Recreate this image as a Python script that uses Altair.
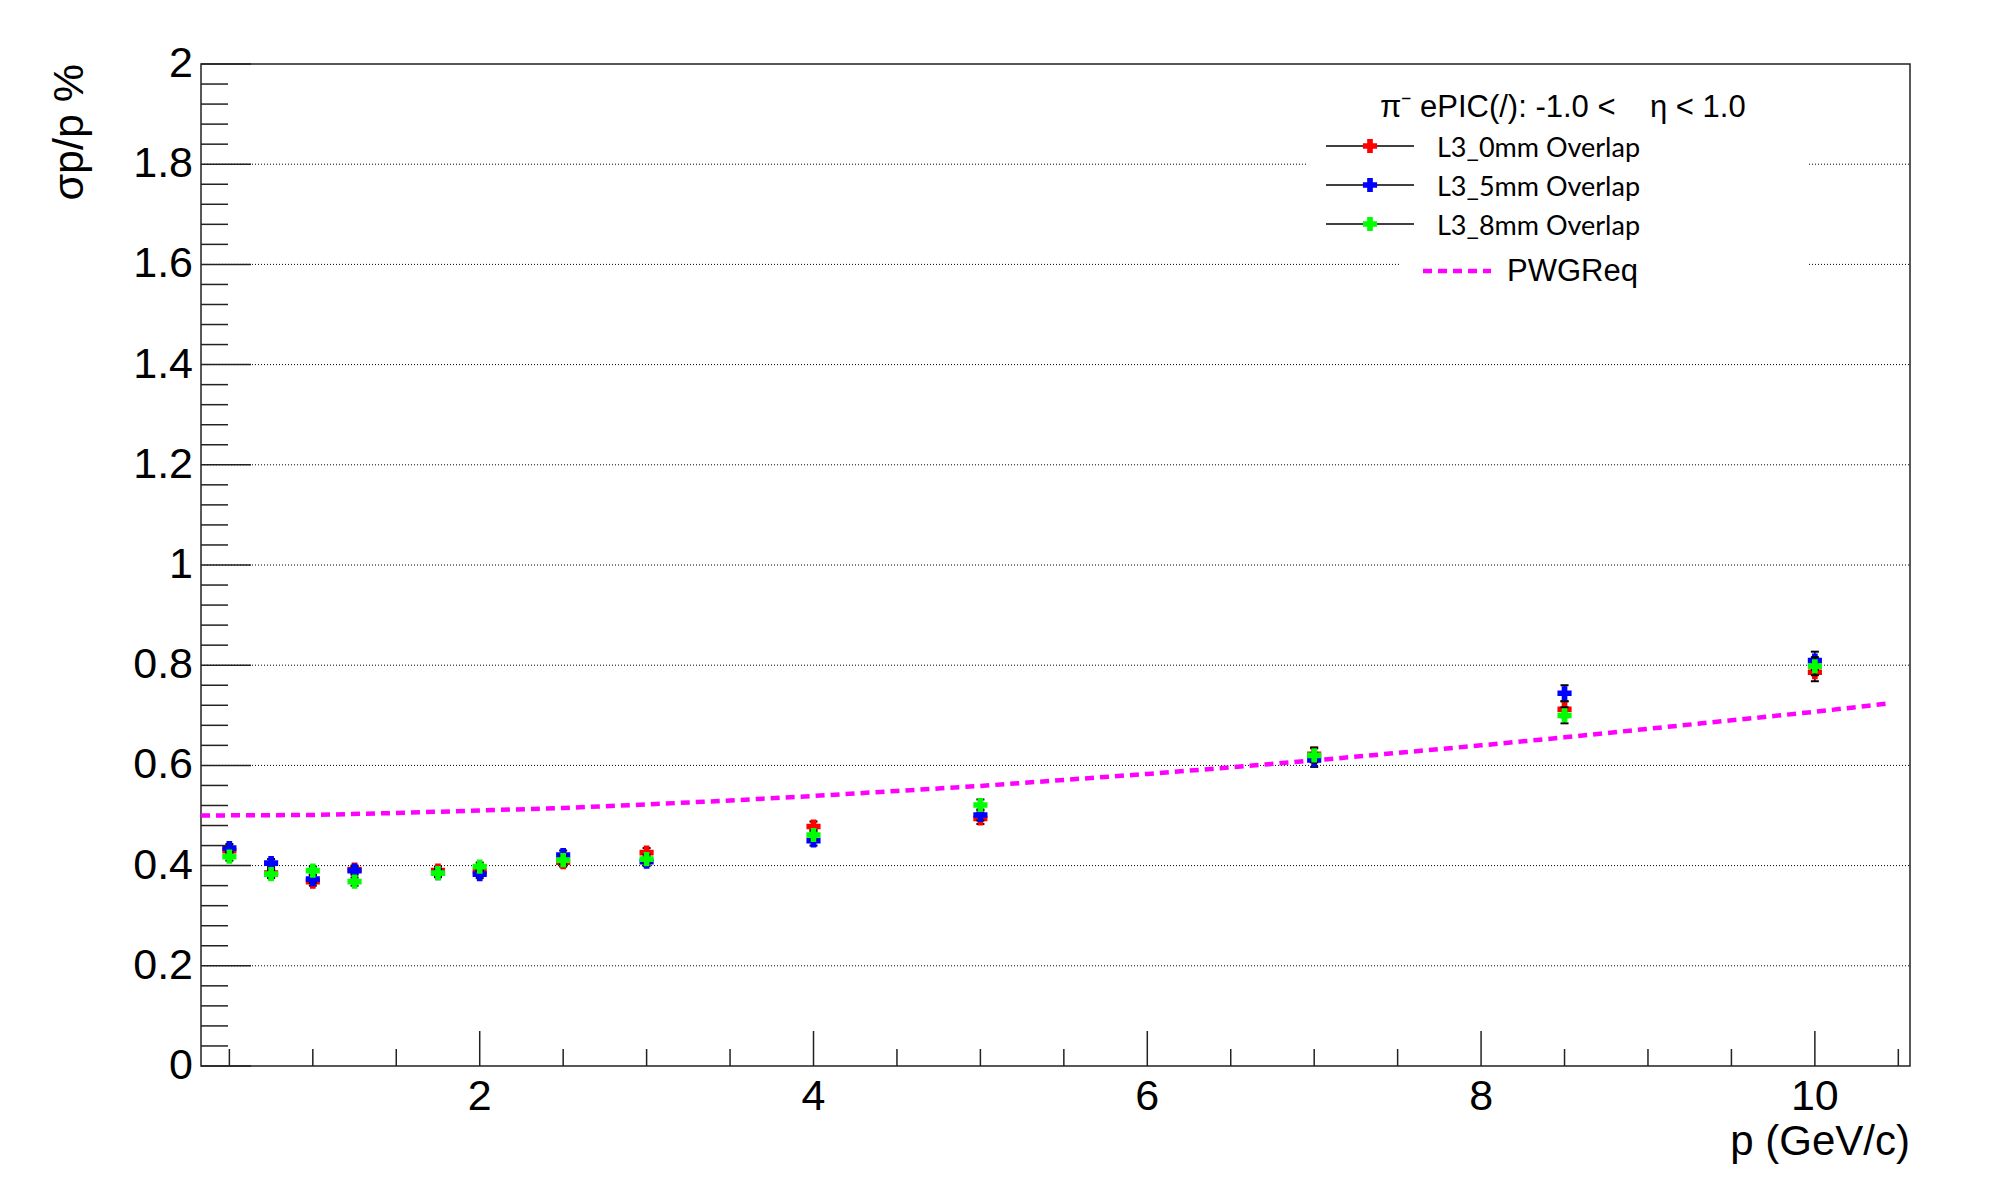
import altair as alt
import pandas as pd

# ---------------- data ----------------
p_values = [0.5, 0.75, 1.0, 1.25, 1.75, 2.0, 2.5, 3.0, 4.0, 5.0, 7.0, 8.5, 10.0]
res_0mm = [0.430, 0.385, 0.368, 0.392, 0.390, 0.388, 0.407, 0.426, 0.478, 0.494, 0.622, 0.712, 0.786]
res_5mm = [0.435, 0.405, 0.373, 0.390, 0.385, 0.383, 0.421, 0.408, 0.450, 0.501, 0.611, 0.744, 0.809]
res_8mm = [0.418, 0.383, 0.390, 0.368, 0.385, 0.398, 0.411, 0.413, 0.461, 0.521, 0.620, 0.700, 0.798]
err_0mm = [0.008, 0.008, 0.008, 0.008, 0.008, 0.008, 0.009, 0.009, 0.010, 0.011, 0.014, 0.016, 0.018]
err_5mm = [0.008, 0.008, 0.008, 0.008, 0.008, 0.008, 0.009, 0.009, 0.010, 0.011, 0.014, 0.016, 0.018]
err_8mm = [0.008, 0.008, 0.008, 0.008, 0.008, 0.008, 0.009, 0.009, 0.010, 0.011, 0.014, 0.016, 0.018]

series_names = ["L3_0mm Overlap", "L3_5mm Overlap", "L3_8mm Overlap"]
series_colors = ["#ff0000", "#0000ff", "#00ff00"]

pwg_p = [0.33, 1.0, 1.5, 2.0, 2.5, 3.0, 3.5, 4.0, 4.5, 5.0, 5.5, 6.0, 6.5, 7.0, 7.5, 8.0, 8.5, 9.0, 9.5, 10.0, 10.45]
pwg_res = [0.500, 0.501, 0.505, 0.510, 0.515, 0.522, 0.530, 0.539, 0.549, 0.559, 0.571, 0.583, 0.596,
           0.610, 0.625, 0.640, 0.656, 0.673, 0.690, 0.707, 0.724]
pwg_name = "PWGReq"
NB = "\u00a0"
legend_title = "\u03c0\u207b ePIC(/): -1.0 <" + NB * 4 + "\u03b7 < 1.0"

x_title = "p (GeV/c)"
y_title = "\u03c3p/p %"

x_ticks_major = [2, 4, 6, 8, 10]
x_tick_labels = ["2", "4", "6", "8", "10"]
x_ticks_minor = [0.5, 1.0, 1.5, 2.5, 3.0, 3.5, 4.5, 5.0, 5.5, 6.5, 7.0, 7.5, 8.5, 9.0, 9.5, 10.5]
y_ticks_major = [0, 0.2, 0.4, 0.6, 0.8, 1.0, 1.2, 1.4, 1.6, 1.8, 2.0]
y_tick_labels = ["0", "0.2", "0.4", "0.6", "0.8", "1", "1.2", "1.4", "1.6", "1.8", "2"]
y_ticks_minor = [round(i * 0.04, 2) for i in range(51) if i % 5 != 0]

# ---------------- layout ----------------
W, H = 1709, 1002
XDOM = [0.33, 10.57]
YDOM = [0, 2]
FONT = "Liberation Sans"

x_scale = alt.Scale(domain=XDOM, nice=False, zero=False)
y_scale = alt.Scale(domain=YDOM, nice=False, zero=False)

one = pd.DataFrame({"a": [0]})
layers = []

# dotted horizontal grid
grid_df = pd.DataFrame({"v": y_ticks_major[1:-1]})
layers.append(
    alt.Chart(grid_df).mark_rule(color="#000", strokeWidth=1, strokeDash=[1, 2]).encode(
        y=alt.Y("v:Q", scale=y_scale, axis=None),
        x=alt.value(0), x2=alt.value(W))
)

# white legend backgrounds
layers.append(alt.Chart(one).mark_rect(color="white").encode(
    x=alt.value(1105), x2=alt.value(1608), y=alt.value(6), y2=alt.value(181)))
layers.append(alt.Chart(one).mark_rect(color="white").encode(
    x=alt.value(1200), x2=alt.value(1608), y=alt.value(181), y2=alt.value(226)))

# PWG requirement line
pwg_df = pd.DataFrame({"p": pwg_p, "r": pwg_res})
layers.append(
    alt.Chart(pwg_df).mark_line(color="#ff00ff", strokeWidth=4.5, strokeDash=[9, 6]).encode(
        x=alt.X("p:Q", scale=x_scale, axis=None),
        y=alt.Y("r:Q", scale=y_scale, axis=None))
)

# data series
all_res = [res_0mm, res_5mm, res_8mm]
all_err = [err_0mm, err_5mm, err_8mm]
for i, (name, col) in enumerate(zip(series_names, series_colors)):
    df = pd.DataFrame({"p": p_values, "r": all_res[i], "e": all_err[i]})
    df["lo"] = df["r"] - df["e"]
    df["hi"] = df["r"] + df["e"]
    base = alt.Chart(df)
    layers.append(base.mark_rule(color="#000", strokeWidth=1.5).encode(
        x=alt.X("p:Q", scale=x_scale, axis=None),
        y=alt.Y("lo:Q", scale=y_scale, axis=None), y2="hi:Q"))
    for c in ["lo", "hi"]:
        layers.append(base.mark_rule(color="#000", strokeWidth=2, xOffset=-4, x2Offset=4).encode(
            x=alt.X("p:Q", scale=x_scale, axis=None), x2="p:Q",
            y=alt.Y(f"{c}:Q", scale=y_scale, axis=None)))
    layers.append(base.mark_point(shape="cross", filled=True, size=200, color=col, opacity=1).encode(
        x=alt.X("p:Q", scale=x_scale, axis=None),
        y=alt.Y("r:Q", scale=y_scale, axis=None)))

# inward ticks
def xticks(vals, length):
    return alt.Chart(pd.DataFrame({"v": vals})).mark_rule(color="#222", strokeWidth=1.5).encode(
        x=alt.X("v:Q", scale=x_scale, axis=None), y=alt.value(H), y2=alt.value(H - length))

def yticks(vals, length):
    return alt.Chart(pd.DataFrame({"v": vals})).mark_rule(color="#222", strokeWidth=1.5).encode(
        y=alt.Y("v:Q", scale=y_scale, axis=None), x=alt.value(0), x2=alt.value(length))

layers += [xticks(x_ticks_major, 35), xticks(x_ticks_minor, 17),
           yticks(y_ticks_major, 50), yticks(y_ticks_minor, 27)]

# tick labels
layers.append(alt.Chart(pd.DataFrame({"v": x_ticks_major, "t": x_tick_labels})).mark_text(
    font=FONT, fontSize=43, color="#000", align="center", baseline="alphabetic").encode(
    x=alt.X("v:Q", scale=x_scale, axis=None), y=alt.value(H + 44), text="t:N"))
layers.append(alt.Chart(pd.DataFrame({"v": y_ticks_major, "t": y_tick_labels})).mark_text(
    font=FONT, fontSize=43, color="#000", align="right", baseline="middle").encode(
    y=alt.Y("v:Q", scale=y_scale, axis=None), x=alt.value(-8), text="t:N"))

# axis titles
layers.append(alt.Chart(one).mark_text(font=FONT, fontSize=43, color="#000", angle=270,
                                       align="right", baseline="alphabetic", text=y_title).encode(
    x=alt.value(-118), y=alt.value(0)))
layers.append(alt.Chart(one).mark_text(font=FONT, fontSize=42, color="#000",
                                       align="right", baseline="alphabetic", text=x_title).encode(
    x=alt.value(W), y=alt.value(1091)))

# legend
layers.append(alt.Chart(one).mark_text(font=FONT, fontSize=31, color="#000",
                                       align="left", baseline="middle", text=legend_title).encode(
    x=alt.value(1179), y=alt.value(44)))
entry_y = [82, 121, 160]
for name, col, ey in zip(series_names, series_colors, entry_y):
    layers.append(alt.Chart(one).mark_rule(color="#000", strokeWidth=1.5).encode(
        x=alt.value(1125), x2=alt.value(1213), y=alt.value(ey)))
    layers.append(alt.Chart(one).mark_point(shape="cross", filled=True, size=200, color=col, opacity=1).encode(
        x=alt.value(1169), y=alt.value(ey)))
    layers.append(alt.Chart(one).mark_text(font="Lato", fontSize=27, color="#000",
                                           align="left", baseline="middle", text=name).encode(
        x=alt.value(1236), y=alt.value(ey + 3)))
layers.append(alt.Chart(one).mark_rule(color="#ff00ff", strokeWidth=4.5, strokeDash=[9, 6]).encode(
    x=alt.value(1222), x2=alt.value(1290), y=alt.value(207)))
layers.append(alt.Chart(one).mark_text(font=FONT, fontSize=31, color="#000",
                                       align="left", baseline="middle", text=pwg_name).encode(
    x=alt.value(1306), y=alt.value(208)))

chart = alt.layer(*layers).properties(
    width=W, height=H,
    autosize=alt.AutoSizeParams(type="none"),
    padding={"left": 193, "top": 56, "right": 70, "bottom": 100},
    background="white",
).configure_view(stroke="#222", strokeWidth=1.5)

chart.save("out.html", embed_options={"renderer": "svg", "actions": False})
